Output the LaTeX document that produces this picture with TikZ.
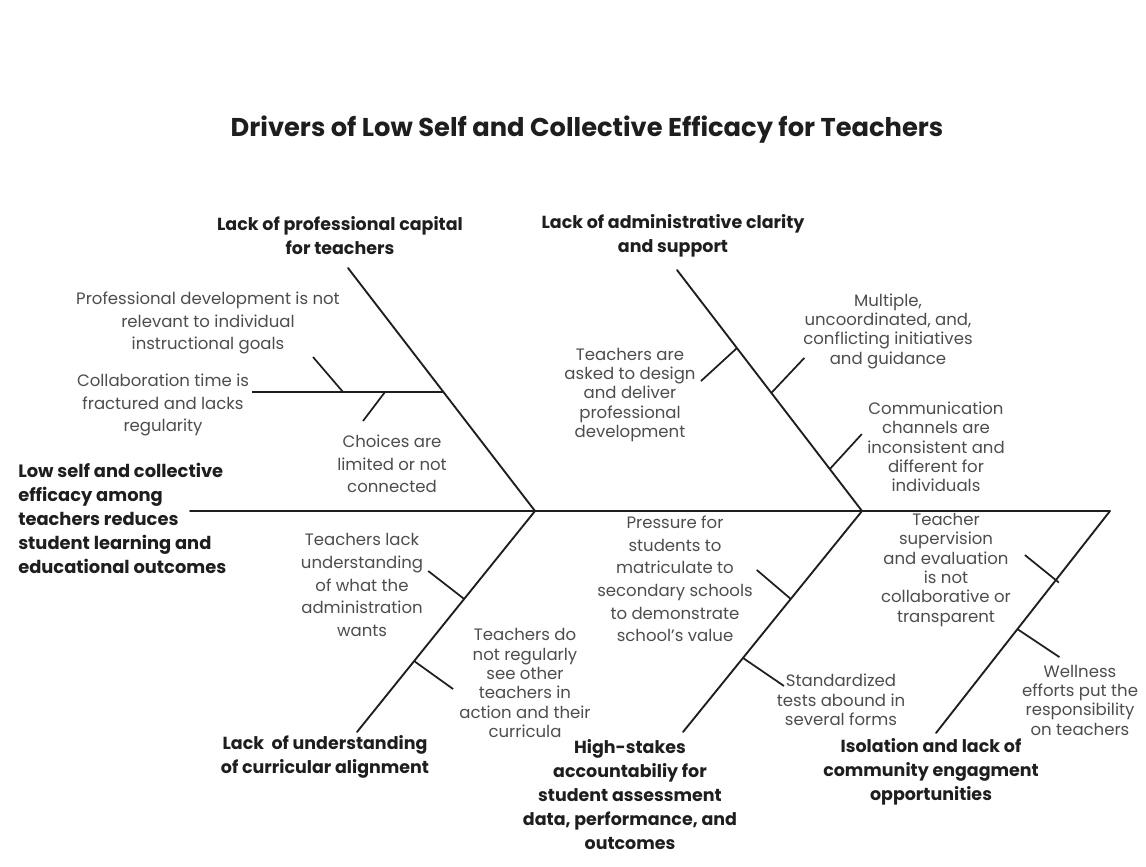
\documentclass[tikz,border=0pt]{standalone}
\usepackage{fontspec}
\setmainfont{Poppins}
\usetikzlibrary{calc}
\definecolor{ink}{HTML}{1E1E1E}
\definecolor{note}{HTML}{4D4D4D}
\begin{document}
\begin{tikzpicture}[x=0.75pt,y=-0.75pt,
  bone/.style={draw=ink,line width=1.4pt,line cap=round},
  rib/.style={draw=ink,line width=1.3pt},
  head/.style={font=\fontsize{13.1}{18}\selectfont\bfseries,text=ink,align=center,inner sep=0pt},
  cause/.style={font=\fontsize{12.4}{#1}\selectfont,text=note,align=center,inner sep=0pt},
  cause/.default=17]
\useasboundingbox[fill=white] (0,0) rectangle (1146,867);

% title
\node[font=\fontsize{19.3}{24}\selectfont\bfseries,text=ink] (title) at (587,130)
  {Drivers of Low Self and Collective Efficacy for Teachers};

% spine and main bones
\coordinate (tail) at (190,511);
\coordinate (j1) at (535,511);
\coordinate (j2) at (862,511);
\coordinate (head) at (1110,511);
\coordinate (u1) at (348,268);
\coordinate (u2) at (677,270);
\coordinate (d1) at (357,732);
\coordinate (d2) at (683,732);
\coordinate (d3) at (936,733);

\draw[bone] (tail) -- (head);
\draw[bone] (u1) -- (j1) -- (d1);
\draw[bone] (u2) -- (j2) -- (d2);
\draw[bone] (head) -- (d3);

% professional capital: horizontal sub-bone with two ribs
\coordinate (p1) at ($(u1)!0.51!(j1)$);
\coordinate (p1end) at (252,392);
\draw[rib] (p1) -- (p1end);
\coordinate (pa) at (343,392);
\coordinate (pb) at (385,392);
\draw[rib] (pa) -- ++(-30,-35);
\draw[rib] (pb) -- ++(-22,29);

% administrative clarity ribs
\coordinate (q1) at ($(u2)!0.324!(j2)$);
\coordinate (q2) at ($(u2)!0.51!(j2)$);
\coordinate (q3) at ($(u2)!0.826!(j2)$);
\draw[rib] (q1) -- ++(-36,33);
\draw[rib] (q2) -- ++(33,-35);
\draw[rib] (q3) -- ++(32,-35);

% curricular alignment ribs
\coordinate (r1) at ($(j1)!0.398!(d1)$);
\coordinate (r2) at ($(j1)!0.679!(d1)$);
\draw[rib] (r1) -- ++(-36,-28);
\draw[rib] (r2) -- ++(39,28);

% accountability ribs
\coordinate (s1) at ($(j2)!0.398!(d2)$);
\coordinate (s2) at ($(j2)!0.665!(d2)$);
\draw[rib] (s1) -- ++(-34,-29);
\draw[rib] (s2) -- ++(41,28);

% isolation ribs
\coordinate (t1) at ($(head)!0.311!(d3)$);
\coordinate (t2) at ($(head)!0.532!(d3)$);
\draw[rib] ($(t1)+(3,2.5)$) -- ++(-34,-27.5);
\draw[rib] (t2) -- ++(42,28);

% effect
\node[font=\fontsize{13.4}{18}\selectfont\bfseries,text=ink,align=left,inner sep=0pt,anchor=west] (effect) at (18,518)
  {Low self and collective\\efficacy among\\teachers reduces\\student learning and\\educational outcomes};

% category headings
\node[head] (L1) at (340,236) {Lack of professional capital\\for teachers};
\node[head] (L2) at (673,236) {Lack of administrative clarity\\and support};
\node[head] (L3) at (325,757) {Lack\ \ of understanding\\of curricular alignment};
\node[head] (L4) at (630,795) {High-stakes\\accountabiliy for\\student assessment\\data, performance, and\\outcomes};
\node[head] (L5) at (931,772) {Isolation and lack of\\community engagment\\opportunities};

% causes
\node[cause] (a1) at (208,323) {Professional development is not\\relevant to individual\\instructional goals};
\node[cause] (a2) at (163,405) {Collaboration time is\\fractured and lacks\\regularity};
\node[cause] (a3) at (392,464) {Choices are\\limited or not\\connected};
\node[cause=14.5] (b1) at (630,395) {Teachers are\\asked to design\\and deliver\\professional\\development};
\node[cause=14.5] (b2) at (888,331) {Multiple,\\uncoordinated, and,\\conflicting initiatives\\and guidance};
\node[cause=14.5] (b3) at (936,447) {Communication\\channels are\\inconsistent and\\different for\\individuals};
\node[cause] (c1) at (362,585) {Teachers lack\\understanding\\of what the\\administration\\wants};
\node[cause=14.5] (c2) at (525,683) {Teachers do\\not regularly\\see other\\teachers in\\action and their\\curricula};
\node[cause] (d1n) at (675,579) {Pressure for\\students to\\matriculate to\\secondary schools\\to demonstrate\\school's value};
\node[cause=14.5] (d2n) at (841,700) {Standardized\\tests abound in\\several forms};
\node[cause=14.5] (e1) at (946,570) {Teacher\\supervision\\and evaluation\\is not\\collaborative or\\transparent};
\node[cause=14.5] (e2) at (1080,700) {Wellness\\efforts put the\\responsibility\\on teachers};
\end{tikzpicture}
\end{document}
